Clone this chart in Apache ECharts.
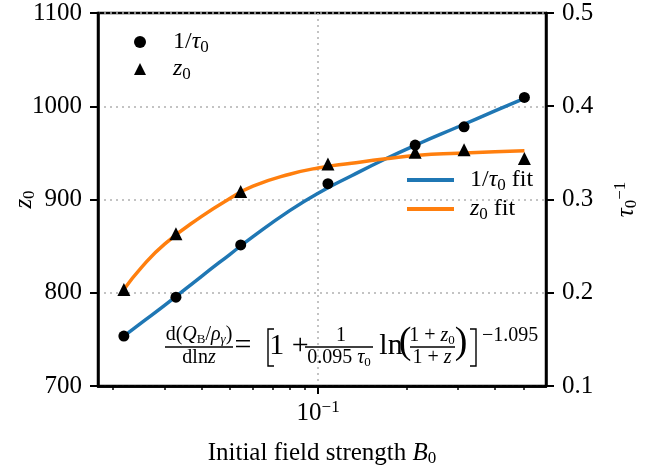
<!DOCTYPE html>
<html>
<head>
<meta charset="utf-8">
<script src="https://cdn.jsdelivr.net/npm/echarts@6/dist/echarts.min.js"></script>
<style>
html, body { margin: 0; padding: 0; background: #fff; }
#chart { width: 657px; height: 472px; }
</style>
</head>
<body>
<div id="chart"></div>
<script>
// measured points
var bField = [0.0218, 0.0328, 0.0545, 0.108, 0.214, 0.314, 0.504];
var invTau = [0.1535, 0.1953, 0.2513, 0.3170, 0.3584, 0.3780, 0.4094];
var z0 = [803.5, 863.4, 908.7, 938.0, 950.8, 953.4, 944.0];

// fit curves
var fitB = [0.0218, 0.025, 0.03, 0.04, 0.05, 0.06, 0.08, 0.1, 0.13, 0.17, 0.22, 0.3, 0.4, 0.504];
var invTauFit = [0.1535, 0.1677, 0.1864, 0.2174, 0.2410, 0.2602, 0.2881, 0.3068, 0.3255, 0.3437, 0.3598, 0.3780, 0.3951, 0.4085];
var z0Fit = [803.5, 827.0, 852.2, 881.6, 901.0, 914.3, 927.1, 933.8, 938.9, 943.7, 947.5, 949.6, 951.2, 952.3];

var minorTicks = [0.02, 0.03, 0.04, 0.05, 0.06, 0.07, 0.08, 0.09, 0.2, 0.3, 0.4, 0.5];
var majorTicks = [0.1];

var serif = '"Liberation Serif", "DejaVu Serif", serif';

function pairs(xs, ys) {
    return xs.map(function(x, i) { return [x, ys[i]]; });
}

var rich = {
    n: { fontFamily: serif, fontSize: 25, lineHeight: 28, color: '#000' },
    i: { fontFamily: serif, fontSize: 25, lineHeight: 28, fontStyle: 'italic', color: '#000' },
    s: { fontFamily: serif, fontSize: 17, lineHeight: 17, verticalAlign: 'bottom', color: '#000' },
    p: { fontFamily: serif, fontSize: 17, lineHeight: 17, verticalAlign: 'top', color: '#000' },
    pad1: { fontFamily: serif, fontSize: 24, lineHeight: 28, padding: [0, 0, 0, 22], color: '#000' },
    pad1i: { fontFamily: serif, fontSize: 24, lineHeight: 28, fontStyle: 'italic', padding: [0, 0, 0, 22], color: '#000' },
    pad2: { fontFamily: serif, fontSize: 24, lineHeight: 28, padding: [0, 0, 0, 11], color: '#000' },
    pad2i: { fontFamily: serif, fontSize: 24, lineHeight: 28, fontStyle: 'italic', padding: [0, 0, 0, 11], color: '#000' },
    li: { fontFamily: serif, fontSize: 24, lineHeight: 28, fontStyle: 'italic', color: '#000' },
    ln: { fontFamily: serif, fontSize: 24, lineHeight: 28, color: '#000' }
};

var legendText = {
    'inv': '{pad1|1/}{li|τ}{s|0}',
    'z': '{pad1i|z}{s|0}',
    'invfit': '{pad2|1/}{li|τ}{s|0}{ln| fit}',
    'zfit': '{pad2i|z}{s|0}{ln| fit}'
};

var chart = echarts.init(document.getElementById('chart'));

var axisLine = { lineStyle: { color: '#000', width: 2.5 } };
var dotted = { show: true, lineStyle: { color: '#b0b0b0', width: 1.5, type: [2, 4] } };

// equation pieces
var eqY = 346;
var eqRich = {
    a: { fontFamily: serif, fontSize: 20, lineHeight: 22 },
    ai: { fontFamily: serif, fontSize: 20, lineHeight: 22, fontStyle: 'italic' },
    as: { fontFamily: serif, fontSize: 13, lineHeight: 13, verticalAlign: 'bottom' },
    asi: { fontFamily: serif, fontSize: 13, lineHeight: 13, verticalAlign: 'bottom', fontStyle: 'italic' },
    b: { fontFamily: serif, fontSize: 30, lineHeight: 32 },
    c: { fontFamily: serif, fontSize: 38, lineHeight: 40 }
};
function txt(x, y, text, align) {
    return {
        type: 'text', x: x, y: y, z: 10,
        style: {
            text: text, align: align || 'center', verticalAlign: 'middle',
            fontFamily: serif, fill: '#000', rich: eqRich
        }
    };
}
function bar(x1, x2, y) {
    return { type: 'line', z: 10, shape: { x1: x1, y1: y, x2: x2, y2: y }, style: { stroke: '#000', lineWidth: 1.3 } };
}
function bracket(pts) {
    return { type: 'polyline', z: 10, shape: { points: pts }, style: { stroke: '#000', lineWidth: 1.4, fill: null } };
}

chart.setOption({
    backgroundColor: '#fff',
    animation: false,
    grid: { left: 98, right: 111, top: 13, bottom: 86, show: true, borderColor: '#000', borderWidth: 2.5 },
    legend: [{
        orient: 'vertical', left: 134, top: 30, padding: 0,
        itemWidth: 12, itemHeight: 12, itemGap: 1,
        data: [{ name: 'inv', icon: 'circle' }, { name: 'z', icon: 'triangle' }],
        itemStyle: { color: '#000', opacity: 1 },
        formatter: function(n) { return legendText[n]; },
        textStyle: { rich: rich }
    }, {
        orient: 'vertical', left: 407, top: 168, padding: 0,
        itemWidth: 47, itemHeight: 4, itemGap: 3,
        data: [{ name: 'invfit', icon: 'rect' }, { name: 'zfit', icon: 'rect' }],
        formatter: function(n) { return legendText[n]; },
        textStyle: { rich: rich }
    }],
    xAxis: [{
        type: 'log', logBase: 10, min: 0.0178, max: 0.597,
        axisLine: axisLine,
        axisTick: { show: true, customValues: minorTicks, length: 4, lineStyle: { color: '#000', width: 1.5 } },
        axisLabel: { show: false },
        splitLine: { show: false }
    }, {
        type: 'log', logBase: 10, min: 0.0178, max: 0.597, position: 'bottom',
        axisLine: axisLine,
        axisTick: { show: true, customValues: majorTicks, length: 8, lineStyle: { color: '#000', width: 2 } },
        axisLabel: {
            customValues: majorTicks, margin: 13,
            formatter: function() { return '{n|10}{p|−1}'; },
            rich: rich
        },
        splitLine: dotted,
        name: '{n|Initial field strength }{i|B}{s|0}',
        nameLocation: 'middle', nameGap: 53,
        nameTextStyle: { rich: rich }
    }],
    yAxis: [{
        type: 'value', min: 700, max: 1100, interval: 100, position: 'left',
        axisLine: axisLine,
        axisTick: { length: 8, lineStyle: { color: '#000', width: 2 } },
        axisLabel: { margin: 16, rich: rich,
            formatter: function(v) { return '{n|' + v + '}'; } },
        splitLine: dotted,
        name: '{i|z}{s|0}', nameLocation: 'middle', nameGap: 60, nameRotate: 90,
        nameMoveOverlap: false,
        nameTextStyle: { rich: rich }
    }, {
        type: 'value', min: 0.1, max: 0.5, interval: 0.1, position: 'right',
        axisLine: axisLine,
        axisTick: { length: 8, lineStyle: { color: '#000', width: 2 } },
        axisLabel: { margin: 16, rich: rich,
            formatter: function(v) { return '{n|' + v.toFixed(1) + '}'; } },
        splitLine: { show: false },
        name: '{i|τ}{s|0}{p|−1}', nameLocation: 'middle', nameGap: 66, nameRotate: 90,
        nameTextStyle: { rich: rich }
    }],
    series: [{
        name: 'invfit', type: 'line', xAxisIndex: 0, yAxisIndex: 1,
        data: pairs(fitB, invTauFit), smooth: true, symbol: 'none', z: 2,
        itemStyle: { color: '#1f77b4' },
        lineStyle: { color: '#1f77b4', width: 3.5 }
    }, {
        name: 'zfit', type: 'line', xAxisIndex: 0, yAxisIndex: 0,
        data: pairs(fitB, z0Fit), smooth: true, symbol: 'none', z: 2,
        itemStyle: { color: '#ff7f0e' },
        lineStyle: { color: '#ff7f0e', width: 3.5 }
    }, {
        name: 'z', type: 'scatter', xAxisIndex: 0, yAxisIndex: 0,
        data: pairs(bField, z0), symbol: 'triangle', symbolSize: 13, z: 3,
        itemStyle: { color: '#000', opacity: 1 }
    }, {
        name: 'inv', type: 'scatter', xAxisIndex: 0, yAxisIndex: 1,
        data: pairs(bField, invTau), symbol: 'circle', symbolSize: 11, z: 4,
        itemStyle: { color: '#000', opacity: 1 }
    }],
    graphic: [
        txt(199, 335, '{a|d(}{ai|Q}{as|B}{a|/}{ai|ρ}{asi|γ}{a|)}'),
        bar(165, 233, 347),
        txt(199, 358, '{a|dln}{ai|z}'),
        txt(243, eqY, '{b|=}'),
        bracket([[274, 329], [268, 329], [268, 366], [274, 366]]),
        txt(289, eqY, '{b|1 +}'),
        txt(341, 336, '{a|1}'),
        bar(305, 373, 347),
        txt(339, 358, '{a|0.095 }{ai|τ}{as|0}'),
        txt(391, eqY, '{b|ln}'),
        txt(405, eqY - 3, '{c|(}'),
        txt(432, 336, '{a|1 + }{ai|z}{as|0}'),
        bar(410, 455, 347),
        txt(432, 358, '{a|1 + }{ai|z}'),
        txt(461, eqY - 3, '{c|)}'),
        bracket([[470, 329], [476, 329], [476, 366], [470, 366]]),
        txt(482, 336, '{a|−1.095}', 'left')
    ]
});
</script>
</body>
</html>
